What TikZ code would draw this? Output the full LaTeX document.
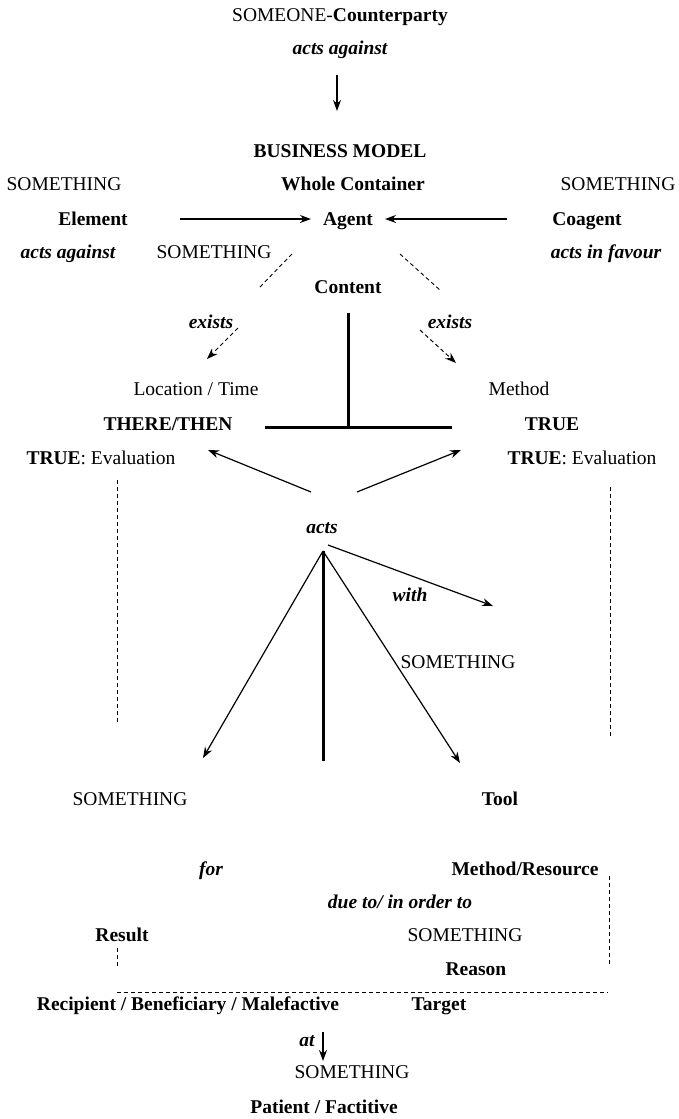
\documentclass[tikz,border=0pt]{standalone}
\usepackage{fontspec}
\setmainfont{Liberation Serif}
\usetikzlibrary{arrows.meta}
\begin{document}
\begin{tikzpicture}[x=1pt,y=-1pt,
  lbl/.style={inner sep=0pt,anchor=base,font=\fontsize{19.5}{22}\selectfont},
  bl/.style={lbl,font=\fontsize{19.5}{22}\selectfont\bfseries},
  it/.style={lbl,font=\fontsize{19.5}{22}\selectfont\bfseries\itshape},
  arr/.style={line width=1.2pt,-{Stealth[length=11pt,width=8pt]}},
  darr/.style={line width=1pt,dash pattern=on 4pt off 3pt,-{Stealth[length=11pt,width=8pt]}},
  dline/.style={line width=0.9pt,dash pattern=on 4pt off 3pt},
  thick line/.style={line width=3pt}]
\useasboundingbox (0,0) rectangle (678,1119);
% top
\node[lbl] (someone) at (340,21.5) {SOMEONE-\textbf{Counterparty}};
\node[it] (aag1) at (340,54.5) {acts against};
\coordinate (a1s) at (337,75);
\coordinate (a1e) at (337,111);
\draw[arr] (a1s) -- (a1e);
\node[bl] (bm) at (340,157.5) {BUSINESS MODEL};
\node[lbl] (sL) at (64,190.5) {SOMETHING};
\node[bl] (whole) at (353,190.5) {Whole Container};
\node[lbl] (sR) at (618,190.5) {SOMETHING};
\node[bl] (elem) at (93,225.5) {Element};
\node[bl] (agent) at (348,225.5) {Agent};
\node[bl] (coag) at (587,225.5) {Coagent};
\coordinate (e1) at (180,219); \coordinate (e2) at (311,219);
\coordinate (c1) at (507,219); \coordinate (c2) at (385,219);
\draw[arr] (e1) -- (e2);
\draw[arr] (c1) -- (c2);
\node[it] (aag2) at (68,258.5) {acts against};
\node[lbl] (sM) at (214,258.5) {SOMETHING};
\node[it] (favour) at (606,258.5) {acts in favour};
\coordinate (d1a) at (292,254); \coordinate (d1b) at (258,289);
\coordinate (d2a) at (400,254); \coordinate (d2b) at (441,291);
\draw[dline] (d1a) -- (d1b);
\draw[dline] (d2a) -- (d2b);
\node[bl] (content) at (348,293.5) {Content};
% T shape
\coordinate (tTop) at (348,313); \coordinate (tBot) at (348,427);
\coordinate (hL) at (265,427); \coordinate (hR) at (452,427);
\draw[thick line] (tTop) -- (tBot);
\draw[thick line] (hL) -- (hR);
\node[it] (ex1) at (211,328.5) {exists};
\node[it] (ex2) at (450,328.5) {exists};
\coordinate (x1a) at (238,328); \coordinate (x1b) at (207,359);
\coordinate (x2a) at (420,330); \coordinate (x2b) at (456,363);
\draw[darr] (x1a) -- (x1b);
\draw[darr] (x2a) -- (x2b);
\node[lbl] (loc) at (196,395.5) {Location / Time};
\node[lbl] (method) at (519,395.5) {Method};
\node[bl] (there) at (168,430.5) {THERE/THEN};
\node[bl] (true) at (552,430.5) {TRUE};
\node[lbl] (evL) at (101,464.5) {\textbf{TRUE}: Evaluation};
\node[lbl] (evR) at (582,464.5) {\textbf{TRUE}: Evaluation};
\coordinate (u1a) at (311,492); \coordinate (u1b) at (208,450);
\coordinate (u2a) at (357,492); \coordinate (u2b) at (461,450);
\draw[arr] (u1a) -- (u1b);
\draw[arr] (u2a) -- (u2b);
\coordinate (vL1) at (117,480); \coordinate (vL2) at (117,722);
\coordinate (vR1) at (610,487); \coordinate (vR2) at (610,738);
\draw[dline] (vL1) -- (vL2);
\draw[dline] (vR1) -- (vR2);
\node[it] (acts) at (322,533.5) {acts};
\coordinate (apex) at (323,551);
\coordinate (stem) at (323,761);
\coordinate (toL) at (203,758);
\coordinate (toR) at (460,763);
\coordinate (w1) at (328,545); \coordinate (w2) at (493,606);
\draw[thick line] (apex) -- (stem);
\draw[arr] (apex) -- (toL);
\draw[arr] (apex) -- (toR);
\draw[arr] (w1) -- (w2);
\node[it] (with) at (410,601.5) {with};
\node[lbl] (sW) at (458,668.5) {SOMETHING};
\node[lbl] (sRes) at (130,805.5) {SOMETHING};
\node[bl] (tool) at (500,805.5) {Tool};
\node[it] (for) at (211,875.5) {for};
\node[bl] (mres) at (525,875.5) {Method/Resource};
\coordinate (r1) at (609,876); \coordinate (r2) at (609,966);
\draw[dline] (r1) -- (r2);
\node[it] (due) at (400,908.5) {due to/ in order to};
\node[bl] (result) at (122,941.5) {Result};
\coordinate (q1) at (117,948); \coordinate (q2) at (117,966);
\draw[dline] (q1) -- (q2);
\node[lbl] (sReason) at (465,941.5) {SOMETHING};
\node[bl] (reason) at (476,975.5) {Reason};
\coordinate (h1) at (117,992); \coordinate (h2) at (608,992);
\draw[dline] (h1) -- (h2);
\node[bl] (recip) at (188,1010.5) {Recipient / Beneficiary / Malefactive};
\node[bl] (target) at (439,1010.5) {Target};
\node[it] (at) at (307,1046.5) {at};
\coordinate (p1) at (323,1032); \coordinate (p2) at (323,1061);
\draw[arr] (p1) -- (p2);
\node[lbl] (sPat) at (352,1078.5) {SOMETHING};
\node[bl] (patient) at (324,1113.5) {Patient / Factitive};
\end{tikzpicture}
\end{document}
